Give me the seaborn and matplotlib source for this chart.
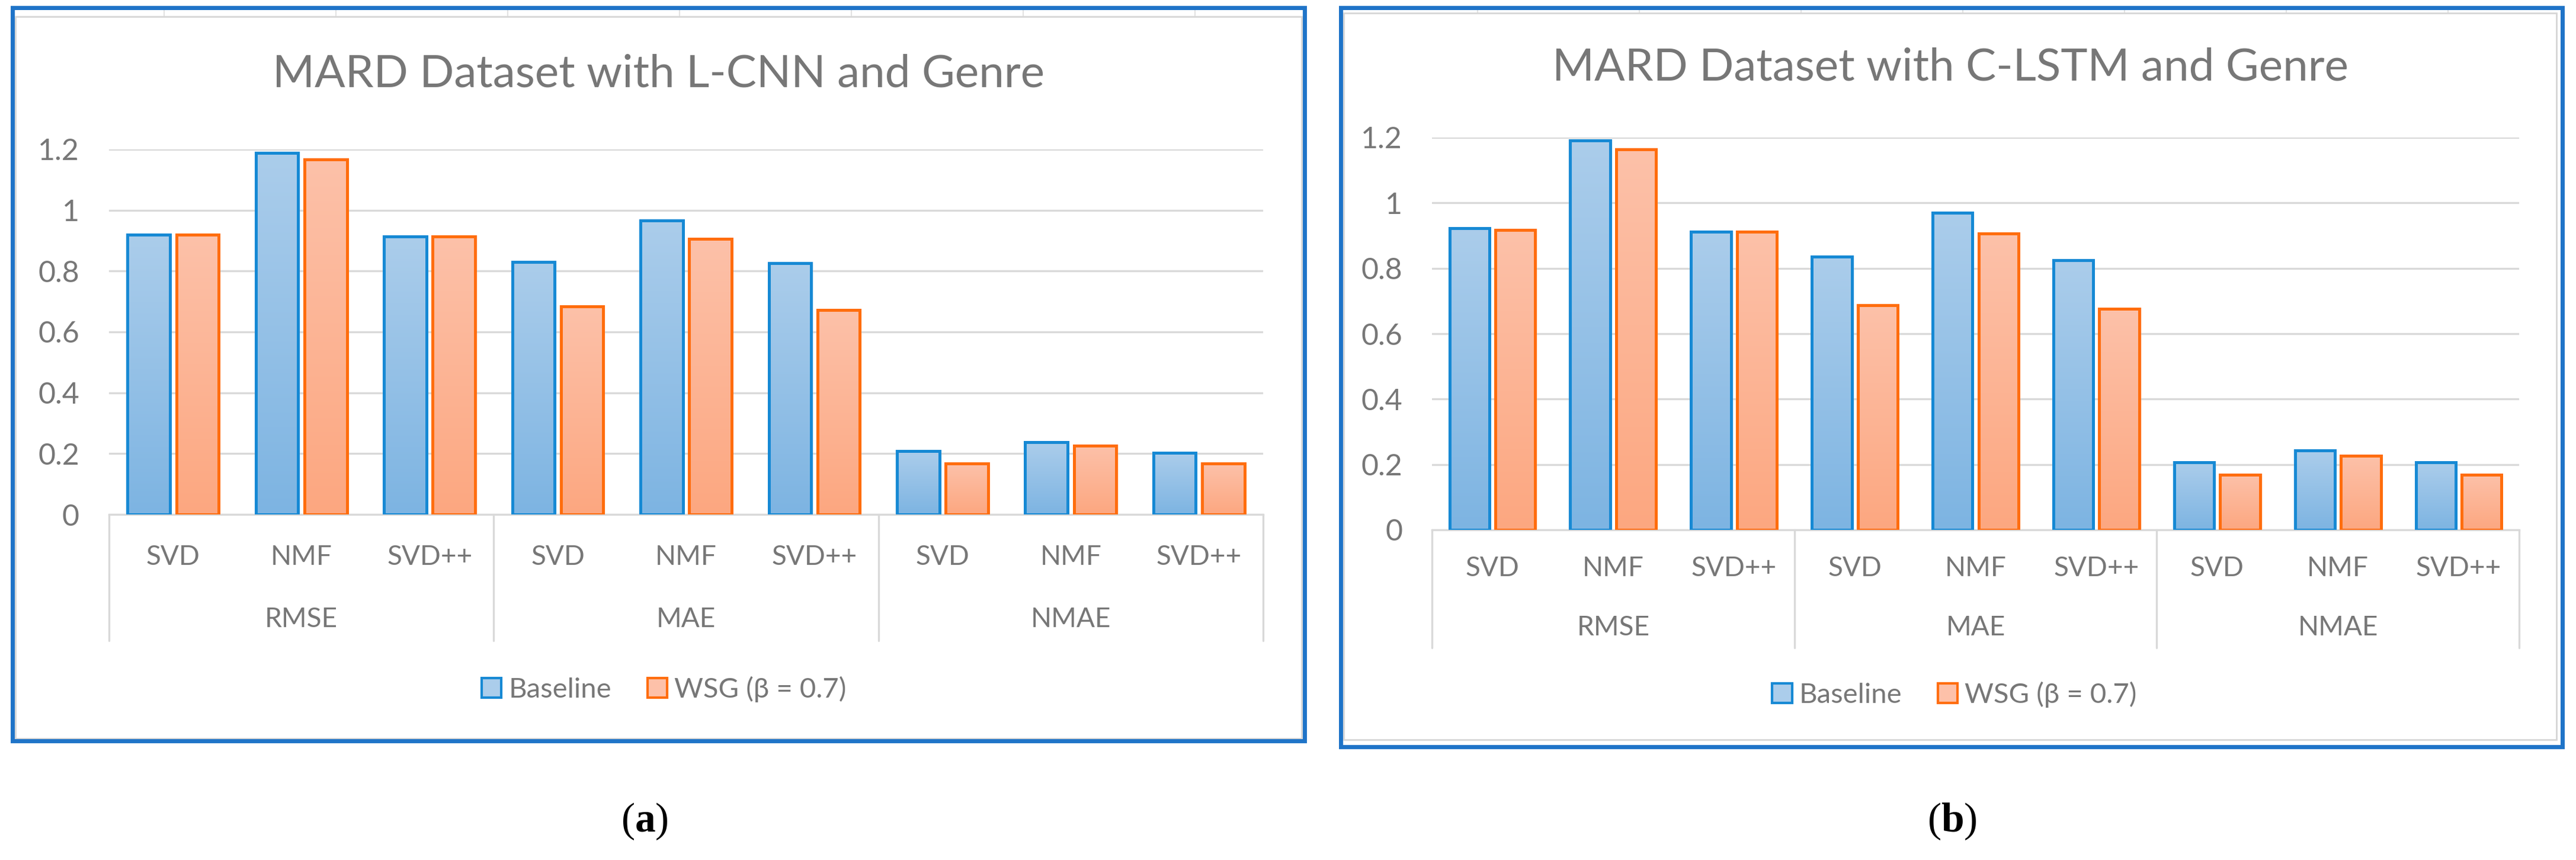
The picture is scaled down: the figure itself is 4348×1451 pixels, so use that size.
import matplotlib.pyplot as plt
import matplotlib.patches as mpatches
import matplotlib.transforms as mtransforms
from matplotlib.colors import LinearSegmentedColormap
import numpy as np
import pandas as pd
import seaborn as sns

# Data
metrics = ["RMSE", "MAE", "NMAE"]
algorithms = ["SVD", "NMF", "SVD++"]
methods = ["Baseline", "WSG (β = 0.7)"]

lcnn_baseline = [0.919, 1.189, 0.913, 0.830, 0.967, 0.826, 0.208, 0.237, 0.203]
lcnn_wsg = [0.919, 1.166, 0.913, 0.684, 0.906, 0.672, 0.167, 0.226, 0.167]
clstm_baseline = [0.923, 1.191, 0.912, 0.836, 0.969, 0.824, 0.206, 0.242, 0.206]
clstm_wsg = [0.917, 1.164, 0.912, 0.687, 0.907, 0.676, 0.169, 0.226, 0.169]

y_ticks = [0, 0.2, 0.4, 0.6, 0.8, 1.0, 1.2]
y_tick_labels = ["0", "0.2", "0.4", "0.6", "0.8", "1", "1.2"]

titles = ["MARD Dataset with L-CNN and Genre", "MARD Dataset with C-LSTM and Genre"]
captions = ["a", "b"]

# Colours
grey_text = "#777777"
grid_col = "#d9d9d9"
frame_blue = "#1f74c8"
blue_edge, orange_edge = "#1689d4", "#ff6d0d"
blue_top, blue_bot = "#abcdeb", "#7db4e2"
orange_top, orange_bot = "#fdc1a9", "#fca780"

W, H, DPI = 4348, 1451, 100

sns.set_style("white")
plt.rcParams['font.family'] = ['Lato', 'DejaVu Sans']
plt.rcParams['mathtext.fontset'] = 'custom'
plt.rcParams['mathtext.bf'] = 'Liberation Serif:bold'
plt.rcParams['mathtext.rm'] = 'Liberation Serif'

fig = plt.figure(figsize=(W / DPI, H / DPI), dpi=DPI)


def fx(x):
    return x / W


def fy(y):
    return 1 - y / H


# layout of each panel in pixels
panels = [
    dict(box=(21, 13, 2202, 1250), inner=(26, 28, 2197, 1246), axes=(184, 252, 2132, 868),
         title=(1112, 125), legend=(1121, 1163), caption=(1088, 1386),
         sub=72, grp=177, sep=213, cells=(277, 290), base=lcnn_baseline, wsg=lcnn_wsg),
    dict(box=(2263, 13, 4325, 1260), inner=(2268, 22, 4315, 1248), axes=(2417, 232, 4252, 894),
         title=(3292, 114), legend=(3299, 1172), caption=(3295, 1386),
         sub=65, grp=165, sep=199, cells=(2494, 273), base=clstm_baseline, wsg=clstm_wsg),
]

slots = [f"{m}|{a}" for m in metrics for a in algorithms]

for i, p in enumerate(panels):
    # outer blue frame and inner grey chart-area frame
    x0, y0, x1, y1 = p["box"]
    fig.patches.append(mpatches.Rectangle((fx(x0), fy(y1)), fx(x1 - x0), (y1 - y0) / H,
                                          transform=fig.transFigure, fill=False,
                                          edgecolor=frame_blue, lw=5, zorder=5))
    x0, y0, x1, y1 = p["inner"]
    fig.patches.append(mpatches.Rectangle((fx(x0), fy(y1)), fx(x1 - x0), (y1 - y0) / H,
                                          transform=fig.transFigure, fill=False,
                                          edgecolor="#d6d6d6", lw=2, zorder=4))
    # faint spreadsheet cell lines peeking above the chart area
    cx, step = p["cells"]
    while cx < p["inner"][2]:
        fig.add_artist(plt.Line2D([fx(cx), fx(cx)], [fy(p["box"][1]), fy(p["inner"][1])],
                                  transform=fig.transFigure, color="#e2e2e2", lw=1.5))
        cx += step

    ax0, ay0, ax1, ay1 = p["axes"]
    ax = fig.add_axes([fx(ax0), fy(ay1), fx(ax1 - ax0), (ay1 - ay0) / H])
    ax_h = ay1 - ay0

    df = pd.DataFrame({
        "slot": slots * 2,
        "method": [methods[0]] * 9 + [methods[1]] * 9,
        "value": list(p["base"]) + list(p["wsg"]),
    })
    sns.barplot(data=df, x="slot", y="value", hue="method", order=slots, hue_order=methods,
                palette=[blue_bot, orange_bot], width=0.76, gap=0.13, legend=False, ax=ax)

    # Excel-style vertical gradient fill and coloured outlines
    grad = np.linspace(0, 1, 256).reshape(-1, 1)
    for cont, edge, top, bot in zip(ax.containers, [blue_edge, orange_edge],
                                    [blue_top, orange_top], [blue_bot, orange_bot]):
        cmap = LinearSegmentedColormap.from_list("g", [bot, top])
        for bar in cont:
            bx, bw, bh = bar.get_x(), bar.get_width(), bar.get_height()
            im = ax.imshow(grad, extent=[bx, bx + bw, 0, bh], origin="lower", aspect="auto",
                           cmap=cmap, zorder=2, interpolation="bilinear")
            im.set_clip_path(bar)
            bar.set_facecolor("none")
            bar.set_edgecolor(edge)
            bar.set_linewidth(3.6)
            bar.set_zorder(3)

    ax.set_xlim(-0.5, 8.5)
    ax.set_ylim(0, 1.2)
    ax.set_yticks(y_ticks)
    ax.set_yticklabels(y_tick_labels)
    ax.yaxis.grid(True, color=grid_col, lw=2.4)
    ax.set_axisbelow(True)
    for s in ["top", "right", "left"]:
        ax.spines[s].set_visible(False)
    ax.spines["bottom"].set_color(grid_col)
    ax.spines["bottom"].set_linewidth(2.4)
    ax.tick_params(axis="y", length=0, pad=36, labelsize=36, labelcolor=grey_text)
    ax.set_xticks(range(9))
    ax.set_xticklabels([])
    ax.tick_params(axis="x", length=0)
    ax.set_xlabel("")
    ax.set_ylabel("")

    # two-level category axis
    xt = ax.get_xaxis_transform()
    sub_t = mtransforms.offset_copy(xt, fig=fig, y=-p["sub"], units="dots")
    grp_t = mtransforms.offset_copy(xt, fig=fig, y=-p["grp"], units="dots")
    for k, slot in enumerate(slots):
        ax.text(k, 0, slot.split("|")[1], transform=sub_t, ha="center", va="center",
                fontsize=33, color=grey_text)
    for g, m in enumerate(metrics):
        ax.text(3 * g + 1, 0, m, transform=grp_t, ha="center", va="center",
                fontsize=33, color=grey_text)
    for xs in [-0.5, 2.5, 5.5, 8.5]:
        ax.plot([xs, xs], [0, -p["sep"] / ax_h], transform=xt, color=grid_col, lw=2.4,
                clip_on=False)

    fig.text(fx(p["title"][0]), fy(p["title"][1]), titles[i], ha="center", va="center",
             fontsize=55, color=grey_text)

    handles = [mpatches.Patch(facecolor=blue_top, edgecolor=blue_edge, lw=3),
               mpatches.Patch(facecolor=orange_top, edgecolor=orange_edge, lw=3)]
    fig.legend(handles, methods, loc="center", ncol=2, frameon=False,
               bbox_to_anchor=(fx(p["legend"][0]), fy(p["legend"][1])),
               fontsize=34, labelcolor=grey_text, handlelength=0.7, handleheight=0.7,
               handletextpad=0.25, columnspacing=1.3)

    fig.text(fx(p["caption"][0]), fy(p["caption"][1]), "(" + r"$\mathbf{" + captions[i] + "}$" + ")",
             ha="center", va="center", fontsize=50, family="Liberation Serif", color="black")

fig.savefig("out.png", dpi=DPI)
